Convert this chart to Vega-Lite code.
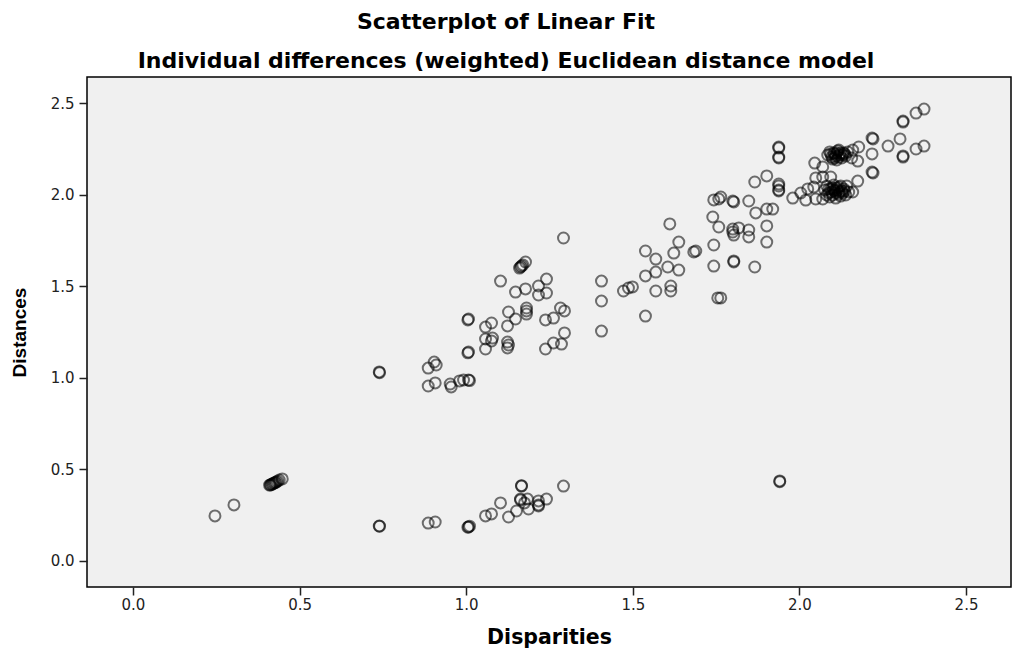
{
  "$schema": "https://vega.github.io/schema/vega-lite/v6.json",
  "autosize": "none",
  "width": 924,
  "height": 510,
  "padding": {"left": 87, "top": 77, "right": 2, "bottom": 68},
  "background": "#ffffff",
  "title": {
    "text": "Scatterplot of Linear Fit",
    "subtitle": "Individual differences (weighted) Euclidean distance model",
    "anchor": "middle",
    "dx": -43,
    "font": "DejaVu Sans",
    "fontSize": 22,
    "fontWeight": "bold",
    "color": "#000000",
    "subtitleFont": "DejaVu Sans",
    "subtitleFontSize": 22,
    "subtitleFontWeight": "bold",
    "subtitleColor": "#000000",
    "subtitlePadding": 17,
    "offset": 4
  },
  "config": {
    "view": {"fill": "#f0f0f0", "stroke": "#000000", "strokeWidth": 1.5},
    "axis": {
      "grid": false,
      "domain": false,
      "ticks": true,
      "tickSize": 8,
      "tickWidth": 1.5,
      "tickColor": "#222222",
      "labelFont": "DejaVu Sans",
      "labelFontSize": 15,
      "labelColor": "#222222",
      "titleColor": "#000000",
      "titleFontWeight": "bold"
    }
  },
  "data": {
    "values": [
      {"Disparities": 0.246, "Distances": 0.246},
      {"Disparities": 0.303, "Distances": 0.306},
      {"Disparities": 0.410, "Distances": 0.414},
      {"Disparities": 0.412, "Distances": 0.415},
      {"Disparities": 0.415, "Distances": 0.418},
      {"Disparities": 0.418, "Distances": 0.420},
      {"Disparities": 0.421, "Distances": 0.423},
      {"Disparities": 0.424, "Distances": 0.426},
      {"Disparities": 0.427, "Distances": 0.428},
      {"Disparities": 0.430, "Distances": 0.431},
      {"Disparities": 0.434, "Distances": 0.436},
      {"Disparities": 0.439, "Distances": 0.442},
      {"Disparities": 0.448, "Distances": 0.448},
      {"Disparities": 0.739, "Distances": 0.191},
      {"Disparities": 0.740, "Distances": 0.190},
      {"Disparities": 0.886, "Distances": 0.207},
      {"Disparities": 0.907, "Distances": 0.213},
      {"Disparities": 1.007, "Distances": 0.186},
      {"Disparities": 1.005, "Distances": 0.184},
      {"Disparities": 1.010, "Distances": 0.190},
      {"Disparities": 1.058, "Distances": 0.246},
      {"Disparities": 1.076, "Distances": 0.257},
      {"Disparities": 1.103, "Distances": 0.317},
      {"Disparities": 1.127, "Distances": 0.240},
      {"Disparities": 1.151, "Distances": 0.273},
      {"Disparities": 1.163, "Distances": 0.338},
      {"Disparities": 1.163, "Distances": 0.333},
      {"Disparities": 1.166, "Distances": 0.409},
      {"Disparities": 1.166, "Distances": 0.411},
      {"Disparities": 1.184, "Distances": 0.338},
      {"Disparities": 1.187, "Distances": 0.284},
      {"Disparities": 1.175, "Distances": 0.317},
      {"Disparities": 1.217, "Distances": 0.306},
      {"Disparities": 1.217, "Distances": 0.300},
      {"Disparities": 1.217, "Distances": 0.328},
      {"Disparities": 1.241, "Distances": 0.338},
      {"Disparities": 1.292, "Distances": 0.409},
      {"Disparities": 1.941, "Distances": 0.437},
      {"Disparities": 1.941, "Distances": 0.433},
      {"Disparities": 0.739, "Distances": 1.032},
      {"Disparities": 0.740, "Distances": 1.028},
      {"Disparities": 0.886, "Distances": 1.053},
      {"Disparities": 0.904, "Distances": 1.086},
      {"Disparities": 0.910, "Distances": 1.070},
      {"Disparities": 0.886, "Distances": 0.955},
      {"Disparities": 0.907, "Distances": 0.972},
      {"Disparities": 0.955, "Distances": 0.950},
      {"Disparities": 0.952, "Distances": 0.966},
      {"Disparities": 0.980, "Distances": 0.983},
      {"Disparities": 0.992, "Distances": 0.988},
      {"Disparities": 1.007, "Distances": 0.988},
      {"Disparities": 1.010, "Distances": 0.985},
      {"Disparities": 1.007, "Distances": 1.141},
      {"Disparities": 1.005, "Distances": 1.136},
      {"Disparities": 1.007, "Distances": 1.321},
      {"Disparities": 1.005, "Distances": 1.316},
      {"Disparities": 1.058, "Distances": 1.277},
      {"Disparities": 1.076, "Distances": 1.299},
      {"Disparities": 1.058, "Distances": 1.212},
      {"Disparities": 1.076, "Distances": 1.201},
      {"Disparities": 1.079, "Distances": 1.217},
      {"Disparities": 1.058, "Distances": 1.157},
      {"Disparities": 1.124, "Distances": 1.195},
      {"Disparities": 1.124, "Distances": 1.163},
      {"Disparities": 1.127, "Distances": 1.179},
      {"Disparities": 1.124, "Distances": 1.283},
      {"Disparities": 1.148, "Distances": 1.321},
      {"Disparities": 1.127, "Distances": 1.359},
      {"Disparities": 1.148, "Distances": 1.468},
      {"Disparities": 1.178, "Distances": 1.485},
      {"Disparities": 1.103, "Distances": 1.528},
      {"Disparities": 1.181, "Distances": 1.381},
      {"Disparities": 1.181, "Distances": 1.365},
      {"Disparities": 1.181, "Distances": 1.348},
      {"Disparities": 1.217, "Distances": 1.501},
      {"Disparities": 1.217, "Distances": 1.452},
      {"Disparities": 1.241, "Distances": 1.539},
      {"Disparities": 1.241, "Distances": 1.463},
      {"Disparities": 1.238, "Distances": 1.316},
      {"Disparities": 1.262, "Distances": 1.326},
      {"Disparities": 1.238, "Distances": 1.157},
      {"Disparities": 1.262, "Distances": 1.190},
      {"Disparities": 1.286, "Distances": 1.184},
      {"Disparities": 1.295, "Distances": 1.245},
      {"Disparities": 1.283, "Distances": 1.381},
      {"Disparities": 1.295, "Distances": 1.365},
      {"Disparities": 1.292, "Distances": 1.763},
      {"Disparities": 1.163, "Distances": 1.605},
      {"Disparities": 1.160, "Distances": 1.599},
      {"Disparities": 1.166, "Distances": 1.610},
      {"Disparities": 1.170, "Distances": 1.616},
      {"Disparities": 1.178, "Distances": 1.632},
      {"Disparities": 1.406, "Distances": 1.528},
      {"Disparities": 1.406, "Distances": 1.419},
      {"Disparities": 1.406, "Distances": 1.255},
      {"Disparities": 1.472, "Distances": 1.474},
      {"Disparities": 1.487, "Distances": 1.490},
      {"Disparities": 1.499, "Distances": 1.496},
      {"Disparities": 1.538, "Distances": 1.337},
      {"Disparities": 1.538, "Distances": 1.692},
      {"Disparities": 1.569, "Distances": 1.648},
      {"Disparities": 1.569, "Distances": 1.577},
      {"Disparities": 1.538, "Distances": 1.556},
      {"Disparities": 1.569, "Distances": 1.474},
      {"Disparities": 1.614, "Distances": 1.501},
      {"Disparities": 1.614, "Distances": 1.474},
      {"Disparities": 1.605, "Distances": 1.605},
      {"Disparities": 1.638, "Distances": 1.588},
      {"Disparities": 1.623, "Distances": 1.681},
      {"Disparities": 1.638, "Distances": 1.741},
      {"Disparities": 1.611, "Distances": 1.840},
      {"Disparities": 1.689, "Distances": 1.692},
      {"Disparities": 1.683, "Distances": 1.687},
      {"Disparities": 1.743, "Distances": 1.725},
      {"Disparities": 1.743, "Distances": 1.610},
      {"Disparities": 1.755, "Distances": 1.436},
      {"Disparities": 1.764, "Distances": 1.436},
      {"Disparities": 1.803, "Distances": 1.638},
      {"Disparities": 1.803, "Distances": 1.632},
      {"Disparities": 1.866, "Distances": 1.605},
      {"Disparities": 1.740, "Distances": 1.878},
      {"Disparities": 1.758, "Distances": 1.823},
      {"Disparities": 1.800, "Distances": 1.796},
      {"Disparities": 1.800, "Distances": 1.812},
      {"Disparities": 1.803, "Distances": 1.779},
      {"Disparities": 1.818, "Distances": 1.818},
      {"Disparities": 1.848, "Distances": 1.807},
      {"Disparities": 1.848, "Distances": 1.769},
      {"Disparities": 1.902, "Distances": 1.829},
      {"Disparities": 1.902, "Distances": 1.741},
      {"Disparities": 1.743, "Distances": 1.971},
      {"Disparities": 1.758, "Distances": 1.976},
      {"Disparities": 1.764, "Distances": 1.987},
      {"Disparities": 1.800, "Distances": 1.965},
      {"Disparities": 1.803, "Distances": 1.960},
      {"Disparities": 1.848, "Distances": 1.965},
      {"Disparities": 1.869, "Distances": 1.900},
      {"Disparities": 1.902, "Distances": 1.921},
      {"Disparities": 1.920, "Distances": 1.921},
      {"Disparities": 1.866, "Distances": 2.069},
      {"Disparities": 1.902, "Distances": 2.102},
      {"Disparities": 1.938, "Distances": 2.260},
      {"Disparities": 1.938, "Distances": 2.254},
      {"Disparities": 1.938, "Distances": 2.205},
      {"Disparities": 1.938, "Distances": 2.200},
      {"Disparities": 1.938, "Distances": 2.058},
      {"Disparities": 1.938, "Distances": 2.047},
      {"Disparities": 1.938, "Distances": 2.025},
      {"Disparities": 1.938, "Distances": 2.020},
      {"Disparities": 1.980, "Distances": 1.981},
      {"Disparities": 2.004, "Distances": 2.009},
      {"Disparities": 2.019, "Distances": 1.970},
      {"Disparities": 2.025, "Distances": 2.031},
      {"Disparities": 2.043, "Distances": 2.041},
      {"Disparities": 2.049, "Distances": 1.976},
      {"Disparities": 2.070, "Distances": 1.976},
      {"Disparities": 2.049, "Distances": 2.091},
      {"Disparities": 2.070, "Distances": 2.096},
      {"Disparities": 2.094, "Distances": 2.096},
      {"Disparities": 2.046, "Distances": 2.172},
      {"Disparities": 2.070, "Distances": 2.151},
      {"Disparities": 2.076, "Distances": 2.025},
      {"Disparities": 2.082, "Distances": 2.047},
      {"Disparities": 2.088, "Distances": 2.009},
      {"Disparities": 2.094, "Distances": 2.031},
      {"Disparities": 2.100, "Distances": 1.998},
      {"Disparities": 2.103, "Distances": 2.052},
      {"Disparities": 2.106, "Distances": 2.020},
      {"Disparities": 2.112, "Distances": 2.036},
      {"Disparities": 2.118, "Distances": 2.003},
      {"Disparities": 2.124, "Distances": 2.047},
      {"Disparities": 2.127, "Distances": 2.020},
      {"Disparities": 2.133, "Distances": 2.031},
      {"Disparities": 2.139, "Distances": 1.998},
      {"Disparities": 2.142, "Distances": 2.047},
      {"Disparities": 2.148, "Distances": 2.014},
      {"Disparities": 2.091, "Distances": 1.987},
      {"Disparities": 2.109, "Distances": 1.981},
      {"Disparities": 2.082, "Distances": 1.998},
      {"Disparities": 2.097, "Distances": 2.014},
      {"Disparities": 2.103, "Distances": 2.025},
      {"Disparities": 2.109, "Distances": 2.009},
      {"Disparities": 2.115, "Distances": 2.025},
      {"Disparities": 2.121, "Distances": 2.014},
      {"Disparities": 2.130, "Distances": 2.009},
      {"Disparities": 2.136, "Distances": 2.020},
      {"Disparities": 2.100, "Distances": 2.036},
      {"Disparities": 2.118, "Distances": 2.041},
      {"Disparities": 2.088, "Distances": 2.031},
      {"Disparities": 2.124, "Distances": 1.992},
      {"Disparities": 2.085, "Distances": 2.216},
      {"Disparities": 2.091, "Distances": 2.233},
      {"Disparities": 2.097, "Distances": 2.205},
      {"Disparities": 2.103, "Distances": 2.227},
      {"Disparities": 2.109, "Distances": 2.211},
      {"Disparities": 2.115, "Distances": 2.238},
      {"Disparities": 2.121, "Distances": 2.216},
      {"Disparities": 2.127, "Distances": 2.200},
      {"Disparities": 2.133, "Distances": 2.227},
      {"Disparities": 2.139, "Distances": 2.211},
      {"Disparities": 2.145, "Distances": 2.233},
      {"Disparities": 2.100, "Distances": 2.194},
      {"Disparities": 2.118, "Distances": 2.243},
      {"Disparities": 2.112, "Distances": 2.189},
      {"Disparities": 2.094, "Distances": 2.222},
      {"Disparities": 2.106, "Distances": 2.222},
      {"Disparities": 2.112, "Distances": 2.227},
      {"Disparities": 2.124, "Distances": 2.227},
      {"Disparities": 2.130, "Distances": 2.216},
      {"Disparities": 2.136, "Distances": 2.222},
      {"Disparities": 2.118, "Distances": 2.205},
      {"Disparities": 2.106, "Distances": 2.200},
      {"Disparities": 2.160, "Distances": 2.243},
      {"Disparities": 2.178, "Distances": 2.260},
      {"Disparities": 2.175, "Distances": 2.183},
      {"Disparities": 2.157, "Distances": 2.200},
      {"Disparities": 2.218, "Distances": 2.309},
      {"Disparities": 2.221, "Distances": 2.304},
      {"Disparities": 2.218, "Distances": 2.222},
      {"Disparities": 2.218, "Distances": 2.123},
      {"Disparities": 2.221, "Distances": 2.118},
      {"Disparities": 2.175, "Distances": 2.074},
      {"Disparities": 2.160, "Distances": 2.014},
      {"Disparities": 2.266, "Distances": 2.265},
      {"Disparities": 2.302, "Distances": 2.304},
      {"Disparities": 2.311, "Distances": 2.402},
      {"Disparities": 2.311, "Distances": 2.396},
      {"Disparities": 2.311, "Distances": 2.211},
      {"Disparities": 2.311, "Distances": 2.205},
      {"Disparities": 2.350, "Distances": 2.445},
      {"Disparities": 2.374, "Distances": 2.467},
      {"Disparities": 2.350, "Distances": 2.249},
      {"Disparities": 2.374, "Distances": 2.265}
    ]
  },
  "mark": {
    "type": "point",
    "shape": "circle",
    "filled": false,
    "size": 120,
    "stroke": "#000000",
    "strokeWidth": 2,
    "strokeOpacity": 0.78
  },
  "encoding": {
    "x": {
      "field": "Disparities",
      "type": "quantitative",
      "scale": {"domain": [-0.138, 2.635], "nice": false, "zero": false},
      "axis": {
        "values": [0, 0.5, 1, 1.5, 2, 2.5],
        "format": ".1f",
        "labelPadding": 2,
        "title": "Disparities",
        "titleFont": "DejaVu Sans",
        "titleFontSize": 20.5,
        "titlePadding": 15
      }
    },
    "y": {
      "field": "Distances",
      "type": "quantitative",
      "scale": {"domain": [-0.142, 2.642], "nice": false, "zero": false},
      "axis": {
        "values": [0, 0.5, 1, 1.5, 2, 2.5],
        "format": ".1f",
        "labelPadding": 5,
        "title": "Distances",
        "titleFont": "Liberation Sans",
        "titleFontSize": 19,
        "titlePadding": 21
      }
    }
  }
}
